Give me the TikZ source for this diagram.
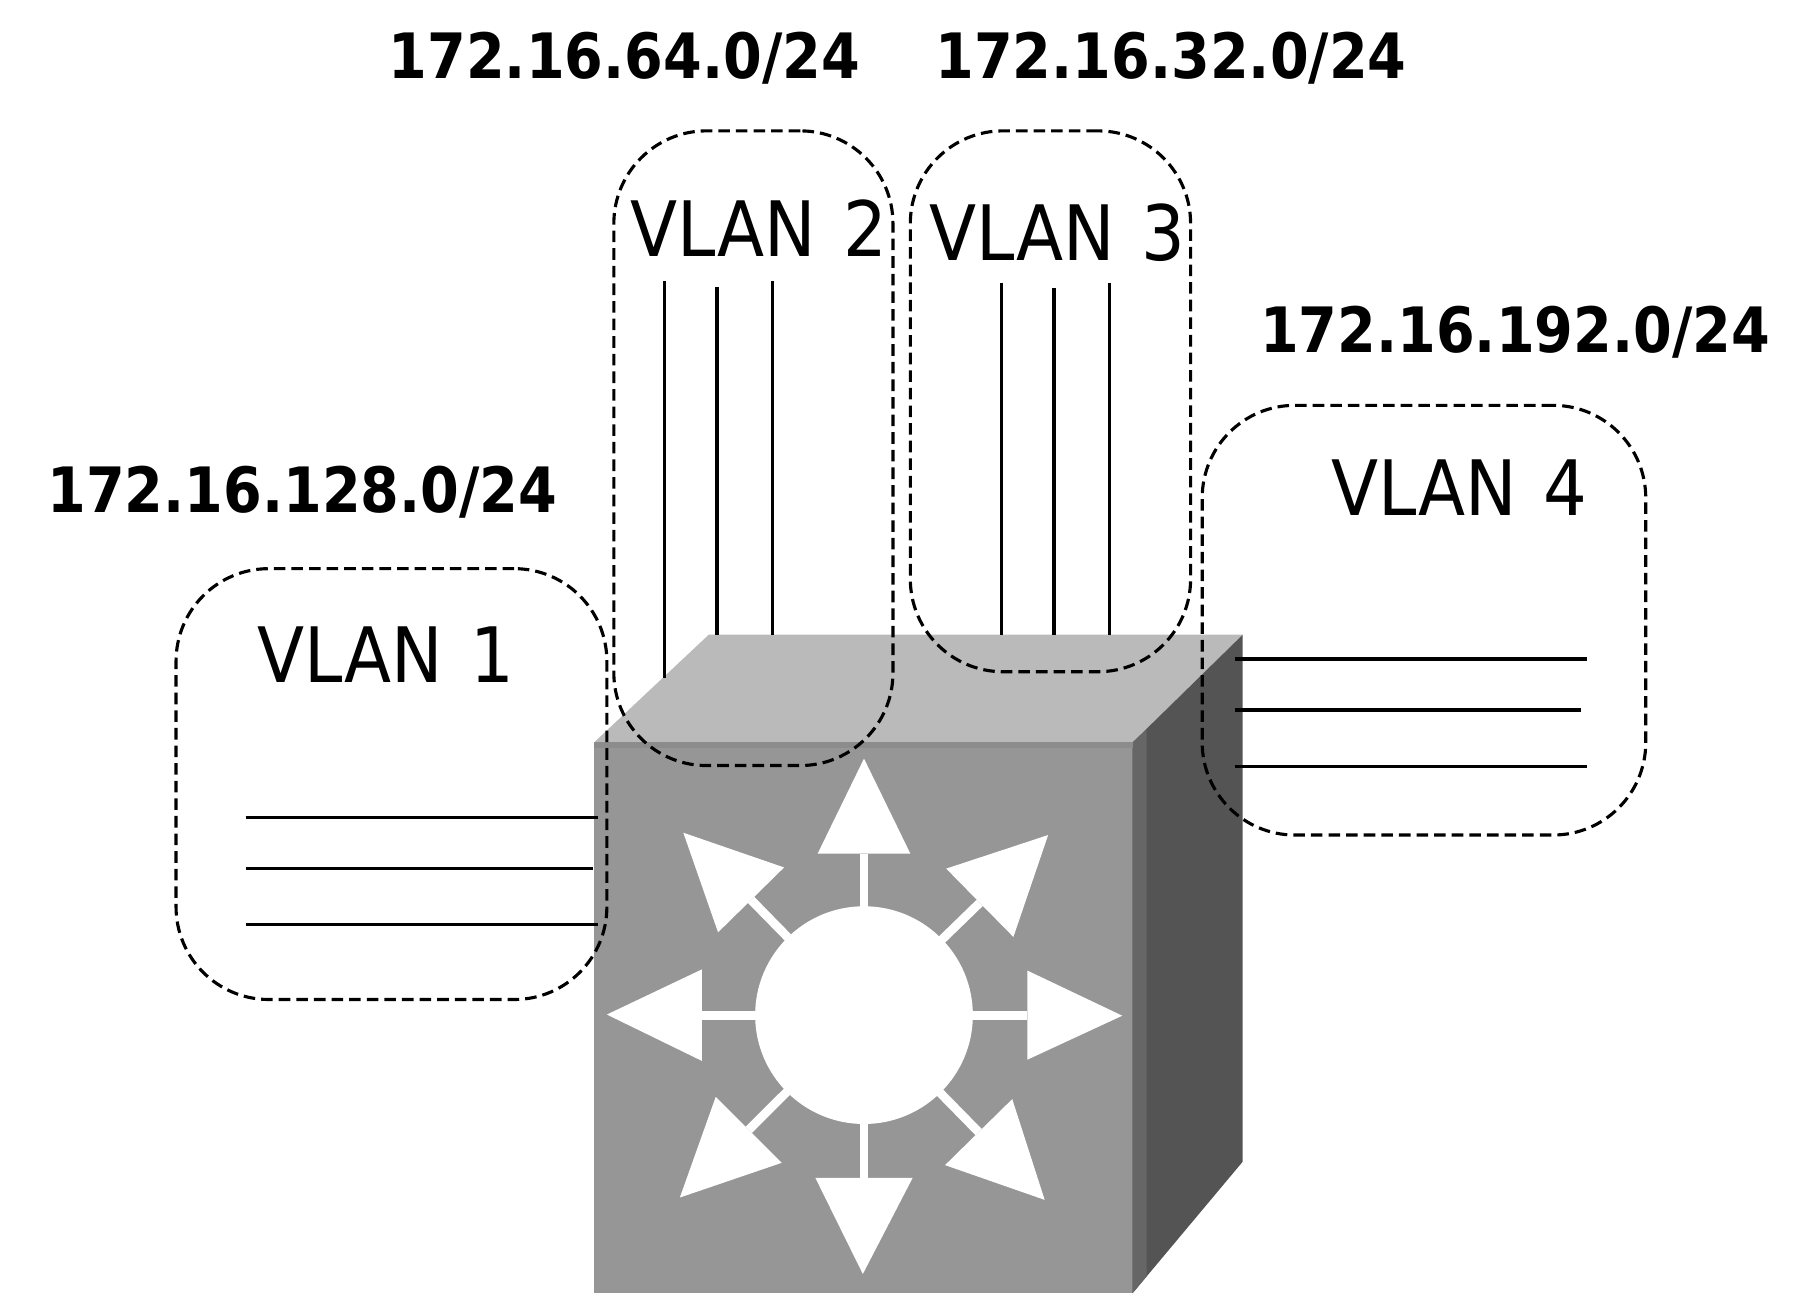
\documentclass[tikz,border=0pt]{standalone}
\usepackage{fontspec}
\usetikzlibrary{calc}
\newfontfamily\vlanfont[WordSpace=1.25]{DejaVu Sans Condensed}
\newfontfamily\netfont[FakeStretch=0.89]{DejaVu Sans Bold}
\tikzset{
  vlan/.style={draw,dashed,dash pattern=on 5pt off 2.6pt,line width=1.35pt,rounded corners=40pt,inner sep=0pt},
  vlanlabel/.style={font=\vlanfont\fontsize{33}{33}\selectfont,inner sep=0pt},
  netlabel/.style={font=\netfont\fontsize{27}{27}\selectfont,inner sep=0pt},
  port/.style={line width=1.4pt},
  glyph/.style={fill=white,draw=none},
  stem/.style={draw=white,line width=3.8pt}
}
\begin{document}
\begin{tikzpicture}[x=0.5pt,y=-0.5pt]
\useasboundingbox (0,0) rectangle (1568,1116.5);
% switch body
\fill[black!41] (513,641) rectangle (978,1116.5);
\fill[black!27] (513,641) -- (612,548) -- (1073,548) -- (978,641) -- cycle;
\fill[black!67] (978,641) -- (1073,548) -- (1073,1003) -- (978,1116.5) -- cycle;
\fill[black!60] (978,641) -- (990,630) -- (990,1102) -- (978,1116.5) -- cycle;
\fill[black!45] (513,641) rectangle (978,646);
% routing glyph
\coordinate (hub) at (746,876.5);
\foreach \tx/\ty/\ax/\ay/\bx/\by in {746/655/706/737/786/737,969/877/887/838/887/915,
  745/1100/704/1017/788/1017,524/876/606/837/606/916,
  590/719/677/749/620/805,905/721/817/750/875/809,
  587/1034/618/947/675/1004,902/1036/874/949/816/1006}{
  \coordinate (wa) at (\ax,\ay);
  \coordinate (wb) at (\bx,\by);
  \fill[glyph] (\tx,\ty) -- (wa) -- (wb) -- cycle;
  \draw[stem] (hub) -- ($(wa)!0.5!(wb)$);
}
\fill[glyph] (hub) circle (47pt);
% vlan areas
\node[vlan,minimum width=186pt,minimum height=186pt] (vlan1) at (338,677) {};
\node[vlan,minimum width=120.5pt,minimum height=274pt] (vlan2) at (650.5,387) {};
\node[vlan,minimum width=121pt,minimum height=233.5pt] (vlan3) at (907,346.5) {};
\node[vlan,minimum width=191.5pt,minimum height=185.5pt] (vlan4) at (1229.5,535.5) {};
\node[vlanlabel] (name1) at (333,565) {VLAN 1};
\node[vlanlabel] (name2) at (655,197) {VLAN 2};
\node[vlanlabel] (name3) at (913,201) {VLAN 3};
\node[vlanlabel] (name4) at (1260,421) {VLAN 4};
\node[netlabel] (net1) at (261,425) {172.16.128.0/24};
\node[netlabel] (net2) at (539,50) {172.16.64.0/24};
\node[netlabel] (net3) at (1011,50) {172.16.32.0/24};
\node[netlabel] (net4) at (1308,287) {172.16.192.0/24};
% ports
\foreach \id/\xa/\ya/\xb/\yb in {a/212/706/516/706,b/212/750/512/750,c/212/798/516/798,
  d/574/243/574/585,e/619/248/619/548,f/667/243/667/548,
  g/865/244/865/548,h/910/249/910/548,i/958/244/958/548,
  j/1066/569/1370/569,k/1066/613/1365/613,l/1066/662/1370/662}{
  \coordinate (\id1) at (\xa,\ya);
  \coordinate (\id2) at (\xb,\yb);
  \draw[port] (\id1) -- (\id2);
}
\end{tikzpicture}
\end{document}
